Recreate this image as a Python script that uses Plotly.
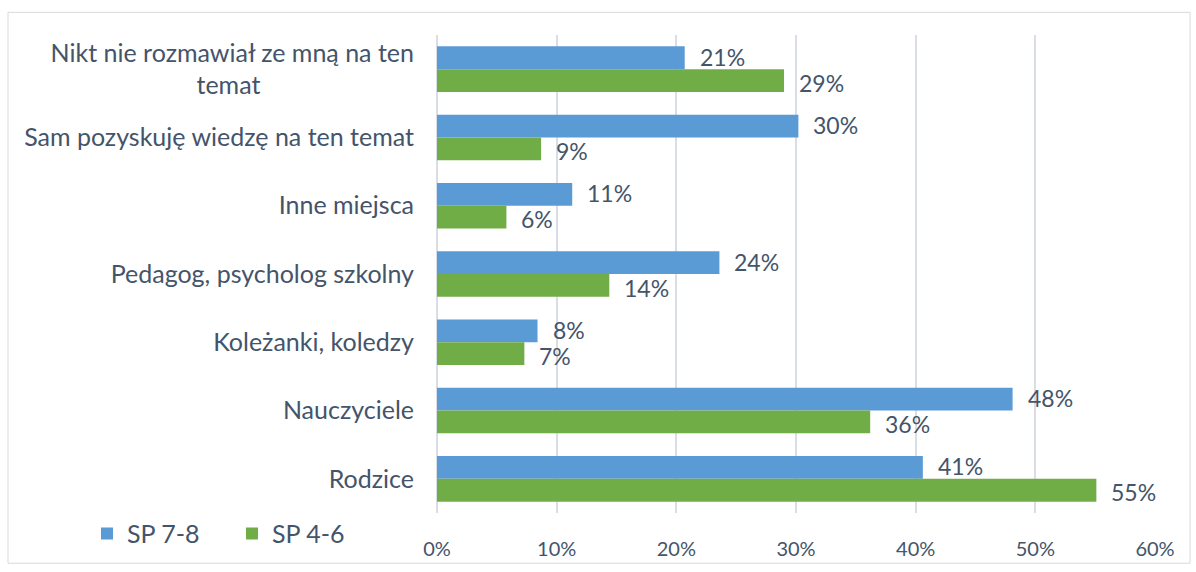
import plotly.graph_objects as go

# Source categories (top to bottom) and shares in percent
NBSP = "\u00a0"
categories = [
    "Nikt nie rozmawiał ze mną na ten<br>temat" + NBSP * 24,
    "Sam pozyskuję wiedzę na ten temat",
    "Inne miejsca",
    "Pedagog, psycholog szkolny",
    "Koleżanki, koledzy",
    "Nauczyciele",
    "Rodzice",
]
sp78 = [20.7, 30.2, 11.3, 23.6, 8.4, 48.1, 40.6]
sp46 = [29.0, 8.7, 5.8, 14.4, 7.3, 36.2, 55.1]
series_names = ["SP 7-8", "SP 4-6"]
x_ticks = [0, 10, 20, 30, 40, 50, 60]
x_tick_text = ["0%", "10%", "20%", "30%", "40%", "50%", "60%"]

BLUE = "#5B9BD5"
GREEN = "#70AD47"
TEXT = "#44546A"
GRID = "#D9DEE6"
FONT = "Lato"

W, H = 1196, 572
L, R, T, B = 437, 41, 35, 52

fig = go.Figure()
for name, vals, col in [(series_names[0], sp78, BLUE), (series_names[1], sp46, GREEN)]:
    fig.add_trace(go.Bar(
        y=categories, x=vals, name=name, orientation="h",
        marker=dict(color=col, line=dict(width=0)),
        hoverinfo="x+y",
    ))

# value labels placed just beyond the end of each bar
annotations = []
for vals, ys in [(sp78, 12.5), (sp46, -13.5)]:
    for cat, v in zip(categories, vals):
        annotations.append(dict(
            x=v, y=cat, xref="x", yref="y", text=f"{v:.0f}%",
            showarrow=False, xanchor="left", yanchor="middle",
            xshift=14, yshift=ys, borderpad=0,
            font=dict(family=FONT, size=23, color=TEXT),
        ))

pw = W - L - R
ph = H - T - B
fig.update_layout(
    width=W, height=H,
    margin=dict(l=L, r=R, t=T, b=B, pad=0),
    paper_bgcolor="white", plot_bgcolor="white",
    barmode="group", bargap=0.333, bargroupgap=0,
    font=dict(family=FONT, color=TEXT),
    annotations=annotations,
    showlegend=True,
    legend=dict(
        orientation="h", x=(87 - L) / pw, xanchor="left",
        y=(H - B - 541) / ph, yanchor="middle",
        font=dict(family=FONT, size=25, color=TEXT),
        entrywidth=100, entrywidthmode="pixels",
        bgcolor="rgba(0,0,0,0)", traceorder="normal",
    ),
    xaxis=dict(
        range=[0, 60], tickvals=x_ticks, ticktext=x_tick_text,
        showgrid=True, gridcolor=GRID, gridwidth=1.5,
        zeroline=True, zerolinecolor=GRID, zerolinewidth=1.5,
        showline=False, ticks="", ticklabelstandoff=22,
        tickfont=dict(family=FONT, size=20, color=TEXT),
        fixedrange=True,
    ),
    yaxis=dict(
        autorange="reversed", showgrid=False, showline=False, ticks="",
        ticklabelstandoff=22,
        tickfont=dict(family=FONT, size=25, color=TEXT),
        fixedrange=True,
    ),
    shapes=[dict(
        type="rect", xref="paper", yref="paper",
        x0=(8 - L) / pw, x1=(1190 - L) / pw,
        y0=(H - B - 571) / ph, y1=(H - B - 12) / ph,
        line=dict(color="#D9D9D9", width=1), fillcolor="rgba(0,0,0,0)",
        layer="below",
    )],
)

fig.write_html("out.html")
